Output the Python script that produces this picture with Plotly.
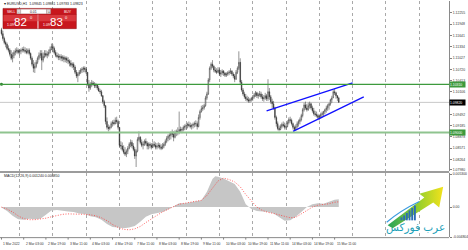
import plotly.graph_objects as go

# ---------------- data (EURUSD H1) ----------------
first_open = 1.1180
close = [
    1.1169, 1.1156, 1.1145, 1.1140, 1.1129, 1.1124, 1.1113, 1.1102, 1.1110, 1.1118,
    1.1121, 1.1124, 1.1118, 1.1121, 1.1124, 1.1126, 1.1124, 1.1121, 1.1118, 1.1124,
    1.1115, 1.1102, 1.1086, 1.1075, 1.1080, 1.1091, 1.1102, 1.1110, 1.1115, 1.1097,
    1.1107, 1.1115, 1.1110, 1.1113, 1.1118, 1.1126, 1.1134, 1.1129, 1.1118, 1.1110,
    1.1107, 1.1105, 1.1107, 1.1102, 1.1105, 1.1099, 1.1102, 1.1097, 1.1094, 1.1089,
    1.1083, 1.1086, 1.1078, 1.1064, 1.1054, 1.1059, 1.1064, 1.1070, 1.1072, 1.1075,
    1.1072, 1.1064, 1.1032, 1.1021, 1.1029, 1.1035, 1.1032, 1.1027, 1.1029, 1.1021,
    1.1013, 1.1011, 1.1000, 1.0984, 1.0973, 1.0930, 1.0914, 1.0911, 1.0914, 1.0924,
    1.0927, 1.0924, 1.0933, 1.0930, 1.0914, 1.0865, 1.0863, 1.0854, 1.0846, 1.0841,
    1.0849, 1.0857, 1.0868, 1.0873, 1.0863, 1.0854, 1.0836, 1.0849, 1.0881, 1.0887,
    1.0873, 1.0865, 1.0868, 1.0876, 1.0871, 1.0863, 1.0868, 1.0865, 1.0860, 1.0868,
    1.0865, 1.0860, 1.0863, 1.0865, 1.0860, 1.0857, 1.0863, 1.0868, 1.0876, 1.0884,
    1.0890, 1.0892, 1.0898, 1.0895, 1.0887, 1.0900, 1.0903, 1.0900, 1.0908, 1.0906,
    1.0908, 1.0914, 1.0916, 1.0919, 1.0922, 1.0919, 1.0916, 1.0919, 1.0922, 1.0924,
    1.0924, 1.0916, 1.0941, 1.0957, 1.0965, 1.0967, 1.0973, 1.0994, 1.1005, 1.1043,
    1.1075, 1.1086, 1.1080, 1.1070, 1.1067, 1.1064, 1.1070, 1.1059, 1.1062, 1.1067,
    1.1062, 1.1056, 1.1059, 1.1062, 1.1064, 1.1067, 1.1059, 1.1054, 1.1045, 1.1064,
    1.1075, 1.1091, 1.1037, 1.1016, 1.1005, 1.0997, 1.0992, 1.0989, 1.0986, 1.0989,
    1.0992, 1.0997, 1.1002, 1.1008, 1.1000, 1.1002, 1.1005, 1.0997, 1.0992, 1.0994,
    1.1000, 1.0992, 1.1011, 1.0997, 1.0984, 1.0978, 1.0967, 1.0941, 1.0924, 1.0911,
    1.0908, 1.0916, 1.0922, 1.0919, 1.0914, 1.0916, 1.0927, 1.0935, 1.0933, 1.0924,
    1.0914, 1.0908, 1.0916, 1.0924, 1.0930, 1.0935, 1.0946, 1.0962, 1.0975, 1.0967,
    1.0962, 1.0973, 1.0978, 1.0967, 1.0959, 1.0951, 1.0949, 1.0946, 1.0941, 1.0943,
    1.0949, 1.0951, 1.0957, 1.0962, 1.0967, 1.0973, 1.0978, 1.0989, 1.0994, 1.1011,
    1.1008, 1.1000, 1.0994, 1.0982,
]
high = [
    1.1185, 1.1177, 1.1161, 1.1150, 1.1145, 1.1137, 1.1129, 1.1124, 1.1118, 1.1124,
    1.1129, 1.1132, 1.1129, 1.1126, 1.1129, 1.1132, 1.1134, 1.1132, 1.1129, 1.1129,
    1.1129, 1.1118, 1.1107, 1.1097, 1.1091, 1.1097, 1.1107, 1.1118, 1.1124, 1.1124,
    1.1118, 1.1124, 1.1124, 1.1121, 1.1126, 1.1134, 1.1142, 1.1140, 1.1134, 1.1124,
    1.1118, 1.1115, 1.1113, 1.1113, 1.1110, 1.1110, 1.1107, 1.1107, 1.1105, 1.1099,
    1.1097, 1.1091, 1.1091, 1.1083, 1.1070, 1.1064, 1.1070, 1.1075, 1.1078, 1.1080,
    1.1080, 1.1078, 1.1064, 1.1043, 1.1037, 1.1043, 1.1040, 1.1037, 1.1035, 1.1032,
    1.1027, 1.1019, 1.1016, 1.1002, 1.0989, 1.0975, 1.0941, 1.0922, 1.0919, 1.0930,
    1.0933, 1.0935, 1.0941, 1.0943, 1.0935, 1.0914, 1.0876, 1.0873, 1.0865, 1.0860,
    1.0854, 1.0863, 1.0873, 1.0881, 1.0879, 1.0871, 1.0860, 1.0854, 1.0887, 1.0903,
    1.0890, 1.0881, 1.0876, 1.0881, 1.0884, 1.0876, 1.0873, 1.0873, 1.0871, 1.0873,
    1.0876, 1.0873, 1.0871, 1.0873, 1.0871, 1.0868, 1.0871, 1.0873, 1.0881, 1.0890,
    1.0895, 1.0898, 1.0903, 1.0908, 1.0903, 1.0906, 1.0908, 1.0914, 1.0957, 1.0916,
    1.0914, 1.0919, 1.0922, 1.0924, 1.0927, 1.0930, 1.0927, 1.0924, 1.0927, 1.0930,
    1.0933, 1.0930, 1.0949, 1.0962, 1.0973, 1.0975, 1.0978, 1.1000, 1.1011, 1.1048,
    1.1080, 1.1091, 1.1097, 1.1083, 1.1078, 1.1075, 1.1078, 1.1075, 1.1070, 1.1072,
    1.1070, 1.1064, 1.1064, 1.1067, 1.1070, 1.1075, 1.1070, 1.1064, 1.1059, 1.1070,
    1.1080, 1.1121, 1.1102, 1.1043, 1.1021, 1.1011, 1.1005, 1.1000, 1.0997, 1.0994,
    1.0997, 1.1002, 1.1008, 1.1013, 1.1011, 1.1008, 1.1013, 1.1011, 1.1005, 1.1002,
    1.1008, 1.1005, 1.1045, 1.1021, 1.1002, 1.0992, 1.0986, 1.0970, 1.0946, 1.0930,
    1.0919, 1.0922, 1.0927, 1.0930, 1.0927, 1.0924, 1.0933, 1.0941, 1.0943, 1.0938,
    1.0927, 1.0919, 1.0922, 1.0930, 1.0935, 1.0941, 1.0951, 1.0967, 1.0981, 1.0984,
    1.0978, 1.0981, 1.0984, 1.0981, 1.0973, 1.0967, 1.0959, 1.0957, 1.0951, 1.0949,
    1.0954, 1.0957, 1.0959, 1.0965, 1.0973, 1.0978, 1.0981, 1.0992, 1.1000, 1.1016,
    1.1019, 1.1011, 1.1002, 1.0997,
]
low = [
    1.1164, 1.1150, 1.1140, 1.1132, 1.1124, 1.1118, 1.1107, 1.1097, 1.1091, 1.1102,
    1.1110, 1.1115, 1.1113, 1.1110, 1.1113, 1.1118, 1.1118, 1.1115, 1.1113, 1.1113,
    1.1110, 1.1097, 1.1080, 1.1064, 1.1062, 1.1075, 1.1086, 1.1097, 1.1102, 1.1070,
    1.1091, 1.1102, 1.1105, 1.1102, 1.1107, 1.1115, 1.1124, 1.1118, 1.1113, 1.1105,
    1.1102, 1.1097, 1.1097, 1.1094, 1.1094, 1.1091, 1.1091, 1.1089, 1.1086, 1.1080,
    1.1078, 1.1075, 1.1070, 1.1059, 1.1048, 1.1037, 1.1054, 1.1059, 1.1062, 1.1064,
    1.1064, 1.1059, 1.1027, 1.1011, 1.1016, 1.1024, 1.1027, 1.1021, 1.1021, 1.1016,
    1.1011, 1.1005, 1.0997, 1.0978, 1.0967, 1.0922, 1.0908, 1.0903, 1.0906, 1.0911,
    1.0916, 1.0919, 1.0922, 1.0924, 1.0908, 1.0860, 1.0854, 1.0849, 1.0841, 1.0836,
    1.0833, 1.0841, 1.0854, 1.0860, 1.0857, 1.0849, 1.0828, 1.0806, 1.0846, 1.0876,
    1.0868, 1.0860, 1.0854, 1.0863, 1.0865, 1.0854, 1.0854, 1.0857, 1.0854, 1.0857,
    1.0860, 1.0854, 1.0854, 1.0857, 1.0854, 1.0852, 1.0854, 1.0857, 1.0863, 1.0871,
    1.0876, 1.0879, 1.0881, 1.0887, 1.0876, 1.0884, 1.0890, 1.0892, 1.0895, 1.0900,
    1.0898, 1.0903, 1.0906, 1.0908, 1.0911, 1.0914, 1.0911, 1.0908, 1.0911, 1.0914,
    1.0916, 1.0908, 1.0914, 1.0935, 1.0954, 1.0959, 1.0962, 1.0970, 1.0989, 1.1002,
    1.1037, 1.1070, 1.1075, 1.1064, 1.1062, 1.1059, 1.1062, 1.1054, 1.1051, 1.1056,
    1.1054, 1.1051, 1.1051, 1.1054, 1.1056, 1.1059, 1.1054, 1.1048, 1.1037, 1.1043,
    1.1059, 1.1070, 1.1029, 1.1011, 1.1000, 1.0992, 1.0986, 1.0984, 1.0981, 1.0981,
    1.0984, 1.0986, 1.0992, 1.0997, 1.0994, 1.0992, 1.0997, 1.0992, 1.0986, 1.0984,
    1.0989, 1.0986, 1.0986, 1.0989, 1.0978, 1.0967, 1.0962, 1.0935, 1.0916, 1.0906,
    1.0903, 1.0906, 1.0911, 1.0914, 1.0908, 1.0908, 1.0914, 1.0922, 1.0927, 1.0919,
    1.0908, 1.0903, 1.0906, 1.0911, 1.0916, 1.0922, 1.0930, 1.0941, 1.0957, 1.0962,
    1.0957, 1.0959, 1.0965, 1.0962, 1.0954, 1.0946, 1.0943, 1.0941, 1.0935, 1.0933,
    1.0938, 1.0941, 1.0943, 1.0949, 1.0954, 1.0959, 1.0962, 1.0973, 1.0981, 1.0994,
    1.1002, 1.0992, 1.0986, 1.0981,
]

date_labels = ["1 Mar 2022", "2 Mar 03:00", "2 Mar 19:00", "3 Mar 11:00", "4 Mar 03:00",
               "4 Mar 19:00", "7 Mar 11:00", "8 Mar 03:00", "8 Mar 19:00", "9 Mar 11:00",
               "10 Mar 03:00", "10 Mar 19:00", "11 Mar 11:00", "14 Mar 03:00", "14 Mar 19:00",
               "15 Mar 11:00"]
bars_per_label = 16
day_start_bars = [13, 37, 61, 85, 109, 133, 157, 181, 205, 229, 253, 277, 301]

price_ticks = [1.12255, 1.11948, 1.11641, 1.11334, 1.11027, 1.10720, 1.10413, 1.10106,
               1.09492, 1.09185, 1.08878, 1.08571, 1.08264, 1.07980]

resistance = 1.1031
support = 1.0900
bid = 1.0982
channel_top_bars = [191, 253]
channel_top_prices = [1.0959, 1.1035]
channel_bot_bars = [210, 261]
channel_bot_prices = [1.0903, 1.0997]

macd_bars = [0, 4, 8, 12, 16, 20, 24, 28, 32, 36, 40, 44, 48, 52, 56, 60, 64, 68, 72, 76,
             80, 84, 88, 92, 96, 100, 104, 108, 112, 116, 120, 124, 128, 132, 136, 140, 144,
             148, 150, 152, 154, 156, 160, 164, 168, 172, 176, 180, 184, 188, 192, 196, 200,
             204, 208, 212, 216, 220, 224, 228, 232, 236, 240, 243]
macd_main = [-0.00008, -0.00062, -0.00140, -0.00194, -0.00202, -0.00186, -0.00194, -0.00186,
             -0.00124, -0.00054, -0.00047, -0.00062, -0.00070, -0.00078, -0.00101, -0.00109,
             -0.00147, -0.00163, -0.00202, -0.00271, -0.00318, -0.00326, -0.00341, -0.00326,
             -0.00302, -0.00233, -0.00155, -0.00116, -0.00101, -0.00078, -0.00039, 0.00016,
             0.00062, 0.00062, 0.00078, 0.00085, 0.00109, 0.00248, 0.00357, 0.00450, 0.00496,
             0.00488, 0.00457, 0.00419, 0.00372, 0.00248, 0.00047, -0.00031, -0.00062,
             -0.00070, -0.00078, -0.00101, -0.00163, -0.00217, -0.00209, -0.00155, -0.00078,
             0.00000, 0.00047, 0.00062, 0.00054, 0.00085, 0.00116, 0.00124]
signal_bars = list(range(0, 241, 4)) + [243]
macd_signal = [0.0, -0.00031, -0.00078, -0.00140, -0.00186, -0.00202, -0.00202, -0.00194,
               -0.00178, -0.00155, -0.00132, -0.00116, -0.00109, -0.00109, -0.00109, -0.00116,
               -0.00124, -0.00140, -0.00171, -0.00217, -0.00279, -0.00326, -0.00357, -0.00364,
               -0.00349, -0.00310, -0.00248, -0.00186, -0.00132, -0.00078, -0.00031, 0.00008,
               0.00047, 0.00062, 0.00078, 0.00085, 0.00109, 0.00186, 0.00310, 0.00419, 0.00465,
               0.00442, 0.00403, 0.00326, 0.00202, 0.00093, 0.0, -0.00054, -0.00085, -0.00101,
               -0.00124, -0.00155, -0.00171, -0.00163, -0.00109, -0.00047, 0.0, 0.00031,
               0.00039, 0.00054, 0.00078, 0.00085]
macd_top, macd_bottom = 0.005300, -0.004804

# ---------------- figure ----------------
W, H = 468, 250
PLOT_R = 453          # right edge of chart area (px)
MAIN_BOTTOM = 172     # px
SUB_TOP, SUB_BOTTOM = 174, 239
FONT = "Liberation Sans"
RED = "#c8161d"

bars = list(range(len(close)))
opens = [first_open] + close[:-1]

fig = go.Figure()
fig.add_trace(go.Candlestick(
    x=bars, open=opens, high=high, low=low, close=close, xaxis="x", yaxis="y",
    increasing=dict(line=dict(color="#2a2a2a", width=0.5), fillcolor="#ffffff"),
    decreasing=dict(line=dict(color="#2a2a2a", width=0.5), fillcolor="#2a2a2a"),
    whiskerwidth=0, hoverinfo="skip", showlegend=False))

# channel lines
for bx, by in ((channel_top_bars, channel_top_prices), (channel_bot_bars, channel_bot_prices)):
    fig.add_trace(go.Scatter(x=bx, y=by, mode="lines", xaxis="x", yaxis="y",
                             line=dict(color="#1010ff", width=1.3), hoverinfo="skip"))
# start dot of the resistance line
fig.add_trace(go.Scatter(x=[bars[0]], y=[resistance], mode="markers", xaxis="x", yaxis="y",
                         marker=dict(color="#2e7d2e", size=3), hoverinfo="skip"))

# MACD
fig.add_trace(go.Scatter(x=macd_bars, y=macd_main, mode="lines", fill="tozeroy",
                         fillcolor="#c6c6c6", line=dict(width=0, color="#c6c6c6"),
                         xaxis="x", yaxis="y2", hoverinfo="skip"))
fig.add_trace(go.Scatter(x=signal_bars, y=macd_signal, mode="lines",
                         line=dict(color="#ff3b3b", width=0.8, dash="1px,1.6px"),
                         xaxis="x", yaxis="y2", hoverinfo="skip"))

# logo arrow (pixel overlay axes)
arrow_x = [391, 428, 423, 447, 443, 437, 396]
arrow_y = [227, 199, 195, 188, 209, 204, 230]
fig.add_trace(go.Scatter(x=arrow_x, y=arrow_y, mode="lines", fill="toself",
                         fillgradient=dict(type="horizontal",
                                           colorscale=[[0, "#27a35a"], [0.6, "#9fd12a"], [1, "#f2e21c"]]),
                         line=dict(width=0), xaxis="x3", yaxis="y3", hoverinfo="skip"))

bx0 = -1.5 / 1.4
bx1 = (PLOT_R - 1.5) / 1.4

fig.update_layout(
    width=W, height=H, margin=dict(l=0, r=0, t=0, b=0),
    paper_bgcolor="white", plot_bgcolor="rgba(0,0,0,0)", showlegend=False,
    font=dict(family=FONT, size=4, color="#222"),
    xaxis=dict(domain=[0, PLOT_R / W], range=[bx0, bx1], anchor="y2",
               tickvals=day_start_bars, showticklabels=False, ticks="",
               showgrid=True, gridcolor="#a9a9a9", griddash="dot", gridwidth=1,
               zeroline=False, showline=False, rangeslider=dict(visible=False)),
    yaxis=dict(domain=[1 - MAIN_BOTTOM / H, 1], range=[1.07953, 1.1258], anchor="x",
               side="right", tickvals=price_ticks, ticktext=[f"{v:.5f}" for v in price_ticks],
               ticks="outside", ticklen=2, tickcolor="#808080",
               tickfont=dict(size=3.4, color="#333", family=FONT),
               showgrid=False, zeroline=False, showline=True, linecolor="#8a8a8a", linewidth=1),
    yaxis2=dict(domain=[1 - SUB_BOTTOM / H, 1 - SUB_TOP / H],
                range=[macd_bottom - 0.00001, macd_top + 0.00018], anchor="x", side="right",
                tickvals=[macd_top, 0.0, macd_bottom],
                ticktext=[f"{macd_top:.6f}", "0.00", f"{macd_bottom:.6f}"],
                ticks="outside", ticklen=2, tickcolor="#808080",
                tickfont=dict(size=3.4, color="#333", family=FONT),
                showgrid=False, zeroline=False, showline=True, linecolor="#8a8a8a", linewidth=1),
    xaxis3=dict(domain=[0, 1], range=[0, W], visible=False, anchor="y3", fixedrange=True),
    yaxis3=dict(domain=[0, 1], range=[H, 0], visible=False, anchor="x3", fixedrange=True),
)

shapes = []
ann = []

def prect(x0, y0, x1, y1, fill, line=None, lw=0):
    shapes.append(dict(type="rect", xref="x3", yref="y3", x0=x0, y0=y0, x1=x1, y1=y1,
                       fillcolor=fill, line=dict(color=line or fill, width=lw), layer="above"))

def ptext(x, y, text, size=3.6, color="#222", xanchor="left", family=FONT):
    ann.append(dict(xref="x3", yref="y3", x=x, y=y, text=text, showarrow=False,
                    xanchor=xanchor, yanchor="middle", font=dict(size=size, color=color, family=family)))

# horizontal levels
shapes.append(dict(type="line", xref="paper", yref="y", x0=0, x1=PLOT_R / W, y0=bid, y1=bid,
                   line=dict(color="#c8c8c8", width=1), layer="below"))
shapes.append(dict(type="line", xref="paper", yref="y", x0=0, x1=PLOT_R / W, y0=support, y1=support,
                   line=dict(color="#8fc48f", width=2.2)))
shapes.append(dict(type="line", xref="paper", yref="y", x0=0, x1=PLOT_R / W, y0=resistance, y1=resistance,
                   line=dict(color="#3d9a3d", width=1.3)))

# window separator and bottom border
prect(0, MAIN_BOTTOM, PLOT_R, SUB_TOP, "#9c9c9c")
shapes.append(dict(type="line", xref="x3", yref="y3", x0=0, x1=PLOT_R, y0=SUB_BOTTOM + 0.5,
                   y1=SUB_BOTTOM + 0.5, line=dict(color="#8a8a8a", width=1)))

# price label boxes on the axis
for val, col in ((resistance, "#3d9a3d"), (support, "#3d9a3d"), (bid, "#000000")):
    ann.append(dict(xref="paper", yref="y", x=PLOT_R / W, y=val, text=f"{val:.5f}",
                    showarrow=False, xanchor="left", yanchor="middle", width=15, height=5,
                    align="left", bgcolor=col, borderpad=0,
                    font=dict(size=3.4, color="white", family=FONT)))

# date labels
for i, lab in enumerate(date_labels):
    b = i * bars_per_label
    ann.append(dict(xref="x", yref="y3", x=b, y=245.5, text=lab, showarrow=False,
                    xanchor="left", yanchor="middle", font=dict(size=3.3, color="#333", family=FONT)))
    shapes.append(dict(type="line", xref="x", yref="y3", x0=b, x1=b, y0=SUB_BOTTOM + 0.5,
                       y1=SUB_BOTTOM + 2.5, line=dict(color="#808080", width=1)))

# header and MACD caption
ptext(2, 3, "\u25be EURUSD,H1  1.09845 1.09861 1.09783 1.09823", size=3.5)
ptext(2, 177.5, f"MACD(12,26,9) {macd_main[-1]:.6f} {macd_signal[-1]:.6f}", size=3.5)

# one-click trading panel
prect(3, 7.5, 77, 28, RED, "#8a0c10", 0.5)
prect(17, 8.3, 21, 13, "#d9d9d9", "#999", 0.3)
prect(21, 8.3, 47, 13, "#ffffff", "#999", 0.3)
prect(47, 8.3, 51, 13, "#d9d9d9", "#999", 0.3)
shapes.append(dict(type="line", xref="x3", yref="y3", x0=38.3, x1=38.3, y0=13.5, y1=28,
                   line=dict(color="#f2f2f2", width=1), layer="above"))
shapes.append(dict(type="line", xref="x3", yref="y3", x0=3, x1=77, y0=13.6, y1=13.6,
                   line=dict(color="#9a1014", width=0.5), layer="above"))
prect(3.5, 14, 37.8, 20.5, "#d9383d")
prect(38.8, 14, 76.5, 20.5, "#d9383d")
ptext(5, 10.7, "SELL", 3.4, "white")
ptext(19, 10.7, "-", 3.4, "#333", "center")
ptext(34, 10.7, "0.01", 3.4, "#222", "center")
ptext(49, 10.7, "+", 3.4, "#333", "center")
ptext(75, 10.7, "BUY", 3.4, "white", "right")
ptext(5, 24, "1.09", 3.6, "white")
ptext(12.5, 21, "82", 11.5, "white")
ptext(28, 16.5, "0", 4, "white")
ptext(41, 24, "1.09", 3.6, "white")
ptext(48.5, 21, "83", 11.5, "white")
ptext(64, 16.5, "0", 4, "white")

# logo: bars, swoosh and Arabic name
bar_tops = [219, 217, 214.5, 212, 209.5, 207]
for k, top in enumerate(bar_tops):
    x0 = 404 + k * 2.7
    prect(x0, top, x0 + 1.9, 222, "#2a6db5")
shapes.append(dict(type="path", xref="x3", yref="y3",
                   path="M 390 224 Q 404 212 423 203", line=dict(color="#3b9be0", width=1.2), layer="above"))
ptext(419, 229.5, "عرب فوركس", 10.5, "#1aa0b8", "center", "DejaVu Sans")

fig.update_layout(shapes=shapes, annotations=ann)
fig.write_html("out.html")
